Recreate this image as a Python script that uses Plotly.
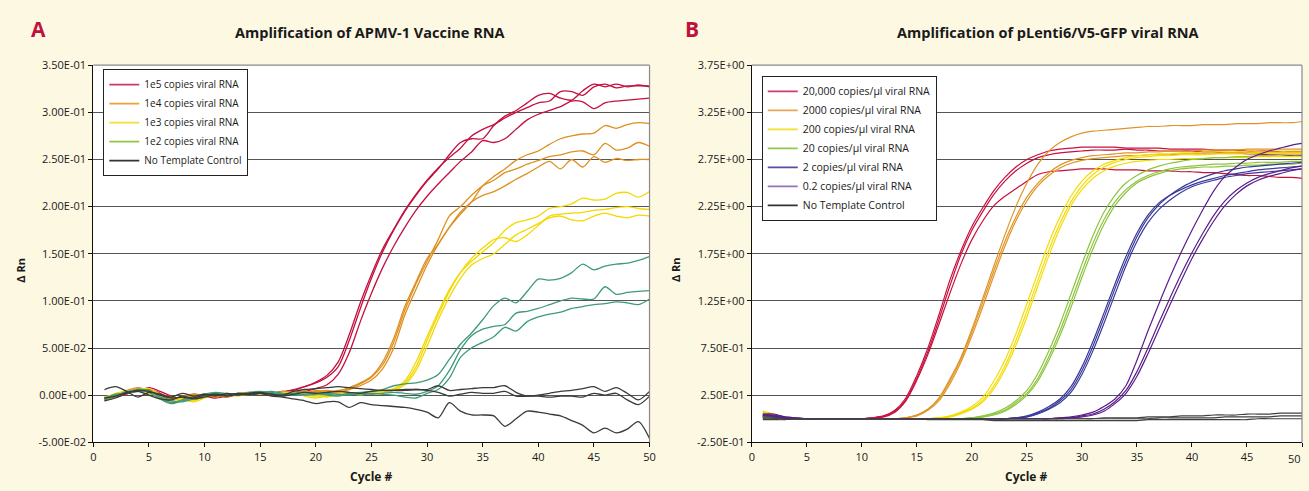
import plotly.graph_objects as go

cycles = list(range(1, 51))

# ---------------- Panel A : APMV-1 vaccine RNA (delta Rn) ----------------
a_1e5_r1 = [-0.004,-0.001,0.003,0.005,0.006,0.002,-0.003,-0.002,-0.004,0.000,
            0.001,-0.002,0.001,0.002,0.001,0.002,0.004,0.005,0.009,0.014,
            0.021,0.035,0.064,0.098,0.128,0.155,0.176,0.196,0.213,0.228,
            0.241,0.252,0.262,0.275,0.282,0.287,0.294,0.300,0.305,0.310,
            0.312,0.322,0.322,0.318,0.327,0.330,0.326,0.328,0.328,0.328]
a_1e5_r2 = [-0.003,0.000,0.002,0.004,0.008,0.004,-0.001,-0.004,-0.002,0.001,
            -0.001,0.000,0.002,0.001,0.003,0.002,0.003,0.006,0.009,0.013,
            0.019,0.030,0.058,0.092,0.124,0.152,0.175,0.195,0.212,0.227,
            0.240,0.255,0.268,0.272,0.272,0.286,0.296,0.302,0.310,0.318,
            0.320,0.315,0.313,0.323,0.330,0.327,0.330,0.327,0.329,0.327]
a_1e5_r3 = [-0.005,-0.002,0.001,0.006,0.004,0.000,-0.004,-0.003,0.001,-0.001,
            -0.003,-0.001,0.000,0.002,0.001,0.003,0.002,0.003,0.004,0.007,
            0.011,0.022,0.045,0.078,0.108,0.135,0.158,0.178,0.196,0.211,
            0.224,0.236,0.248,0.258,0.270,0.268,0.272,0.282,0.292,0.298,
            0.302,0.306,0.312,0.311,0.304,0.310,0.312,0.313,0.314,0.315]

a_1e4_r1 = [-0.002,0.001,0.005,0.008,0.004,-0.004,-0.006,-0.002,0.000,-0.001,
            0.001,0.000,0.002,0.003,0.001,0.002,0.003,0.002,0.003,0.004,
            0.003,0.004,0.008,0.013,0.020,0.035,0.060,0.094,0.120,0.145,
            0.160,0.178,0.192,0.205,0.222,0.232,0.240,0.249,0.255,0.259,
            0.266,0.272,0.275,0.277,0.278,0.286,0.283,0.287,0.289,0.288]
a_1e4_r2 = [-0.004,0.000,0.004,0.006,0.002,-0.002,-0.004,-0.003,-0.001,0.001,
            -0.002,0.001,0.001,0.002,0.002,0.001,0.004,0.003,0.002,0.005,
            0.004,0.005,0.007,0.012,0.019,0.032,0.056,0.090,0.118,0.142,
            0.165,0.190,0.200,0.212,0.222,0.228,0.236,0.240,0.245,0.249,
            0.253,0.255,0.258,0.259,0.255,0.267,0.260,0.262,0.268,0.264]
a_1e4_r3 = [-0.006,-0.002,0.002,0.007,0.005,-0.003,-0.005,-0.001,0.001,0.000,
            0.000,-0.002,0.002,0.001,0.003,0.002,0.001,0.002,0.004,0.003,
            0.005,0.003,0.006,0.010,0.016,0.028,0.050,0.085,0.112,0.138,
            0.160,0.178,0.194,0.205,0.212,0.216,0.222,0.229,0.235,0.242,
            0.248,0.240,0.250,0.242,0.253,0.247,0.251,0.249,0.250,0.250]

a_1e3_r1 = [-0.003,0.002,0.004,0.006,0.007,0.001,-0.004,-0.006,-0.005,-0.002,
            0.000,0.001,-0.001,0.002,0.001,0.003,0.001,0.002,0.001,0.000,
            -0.002,0.001,0.002,0.000,0.003,0.004,0.007,0.015,0.035,0.062,
            0.088,0.112,0.130,0.142,0.152,0.162,0.175,0.183,0.186,0.190,
            0.198,0.200,0.203,0.209,0.207,0.208,0.214,0.215,0.210,0.216]
a_1e3_r2 = [-0.002,0.001,0.005,0.004,0.003,-0.001,-0.003,-0.004,-0.007,-0.003,
            0.001,0.000,0.001,0.000,0.002,0.002,0.003,0.001,0.000,-0.001,
            0.000,0.002,0.001,0.002,0.004,0.003,0.006,0.013,0.030,0.058,
            0.085,0.110,0.130,0.145,0.156,0.165,0.167,0.163,0.170,0.180,
            0.190,0.192,0.193,0.194,0.196,0.197,0.199,0.200,0.198,0.197]
a_1e3_r3 = [-0.004,-0.001,0.003,0.005,0.002,0.000,-0.002,-0.005,-0.006,-0.001,
            -0.001,0.002,0.000,0.001,0.001,0.002,0.002,0.003,-0.001,-0.003,
            -0.001,0.000,0.003,0.001,0.002,0.005,0.005,0.011,0.026,0.052,
            0.080,0.104,0.124,0.138,0.145,0.150,0.160,0.170,0.176,0.182,
            0.188,0.190,0.186,0.185,0.190,0.193,0.190,0.188,0.191,0.190]

a_1e2_r1 = [-0.003,0.000,0.003,0.006,0.005,-0.002,-0.008,-0.005,-0.002,0.000,
            0.002,0.000,0.001,0.003,0.004,0.002,0.001,0.002,0.003,0.002,
            0.001,0.000,0.002,0.003,0.004,0.006,0.010,0.012,0.013,0.016,
            0.022,0.038,0.054,0.066,0.080,0.095,0.103,0.098,0.110,0.123,
            0.122,0.124,0.130,0.139,0.133,0.137,0.139,0.140,0.143,0.147]
a_1e2_r2 = [-0.005,-0.001,0.004,0.005,0.003,-0.004,-0.009,-0.006,-0.003,0.001,
            0.003,0.001,0.000,0.002,0.003,0.004,0.002,0.001,0.000,0.001,
            0.002,0.001,0.000,0.002,0.001,0.002,0.003,0.002,0.001,0.004,
            0.010,0.026,0.048,0.063,0.070,0.073,0.075,0.087,0.089,0.092,
            0.096,0.100,0.103,0.102,0.102,0.115,0.107,0.109,0.110,0.111]
a_1e2_r3 = [-0.004,0.001,0.002,0.004,0.004,0.000,-0.006,-0.007,-0.004,-0.001,
            0.002,0.002,0.001,0.001,0.002,0.003,0.001,0.000,0.001,0.002,
            0.000,-0.001,0.001,0.000,0.002,0.001,0.000,-0.002,-0.003,0.002,
            0.006,0.018,0.040,0.050,0.056,0.062,0.072,0.068,0.078,0.083,
            0.086,0.088,0.092,0.094,0.096,0.097,0.099,0.098,0.096,0.102]

a_ntc_1 = [0.006,0.009,0.004,-0.002,0.003,0.001,-0.002,0.002,-0.001,0.001,
           -0.001,0.002,0.000,0.002,0.003,0.001,0.000,0.004,0.006,0.007,
           0.008,0.009,0.008,0.007,0.006,0.005,0.005,0.005,0.006,0.006,
           0.010,0.005,0.006,0.007,0.008,0.008,0.010,0.003,-0.001,0.000,
           0.002,0.004,0.005,0.007,0.009,0.004,0.008,0.002,-0.005,0.004]
a_ntc_2 = [-0.006,-0.003,0.002,0.005,0.004,0.000,-0.003,-0.002,-0.003,0.000,
           0.001,0.000,0.002,0.001,0.002,0.001,-0.001,0.001,0.003,0.002,
           0.003,0.004,0.003,0.002,0.004,0.005,0.005,0.006,0.006,0.005,
           0.003,-0.001,0.001,0.003,0.002,0.002,0.004,-0.001,-0.001,-0.001,
           -0.002,-0.001,-0.001,-0.002,0.002,0.000,0.002,-0.005,-0.010,-0.001]
a_ntc_3 = [-0.003,-0.001,0.003,0.004,0.000,-0.004,-0.005,-0.001,-0.004,-0.002,
           0.000,-0.001,0.001,0.000,0.002,-0.001,-0.002,-0.004,-0.006,-0.009,
           -0.007,-0.007,-0.013,-0.008,-0.010,-0.011,-0.012,-0.013,-0.015,-0.018,
           -0.024,-0.008,-0.017,-0.021,-0.021,-0.022,-0.033,-0.025,-0.017,-0.018,
           -0.020,-0.022,-0.027,-0.032,-0.040,-0.035,-0.040,-0.036,-0.028,-0.046]

# ---------------- Panel B : pLenti6/V5-GFP viral RNA (delta Rn) ----------------
b_20000_r1 = [0.03,0.02,0.00,0.00,0.00,0.00,0.00,0.00,0.00,0.00,
              0.01,0.03,0.09,0.22,0.46,0.75,1.10,1.47,1.78,2.04,
              2.24,2.42,2.56,2.67,2.75,2.80,2.84,2.86,2.87,2.88,
              2.88,2.88,2.88,2.87,2.87,2.87,2.87,2.86,2.86,2.86,
              2.86,2.85,2.85,2.85,2.84,2.84,2.84,2.83,2.83,2.83]
b_20000_r2 = [0.02,0.01,0.00,0.00,0.00,0.00,0.00,0.00,0.00,0.00,
              0.01,0.03,0.08,0.20,0.43,0.71,1.05,1.41,1.74,2.00,
              2.20,2.38,2.52,2.63,2.71,2.77,2.80,2.82,2.83,2.84,
              2.85,2.85,2.85,2.86,2.85,2.85,2.84,2.84,2.84,2.84,
              2.83,2.83,2.82,2.82,2.81,2.81,2.80,2.80,2.79,2.79]
b_20000_r3 = [0.02,0.01,0.00,0.00,0.00,0.00,0.00,0.00,0.00,0.00,
              0.01,0.02,0.07,0.19,0.41,0.68,1.00,1.33,1.64,1.90,
              2.10,2.26,2.36,2.44,2.52,2.59,2.62,2.63,2.64,2.65,
              2.65,2.65,2.64,2.64,2.64,2.63,2.63,2.63,2.62,2.62,
              2.61,2.61,2.60,2.59,2.58,2.58,2.57,2.56,2.56,2.55]

b_2000_r1 = [0.02,0.01,0.00,0.00,0.00,0.00,0.00,0.00,0.00,0.00,
             0.00,0.00,0.00,0.01,0.04,0.10,0.22,0.42,0.65,0.95,
             1.28,1.62,1.95,2.25,2.50,2.70,2.84,2.93,2.99,3.03,
             3.05,3.06,3.07,3.08,3.09,3.10,3.10,3.11,3.11,3.11,
             3.12,3.12,3.12,3.13,3.13,3.13,3.14,3.14,3.14,3.15]
b_2000_r2 = [0.02,0.01,0.00,0.00,0.00,0.00,0.00,0.00,0.00,0.00,
             0.00,0.00,0.00,0.01,0.04,0.10,0.21,0.40,0.63,0.92,
             1.24,1.57,1.88,2.14,2.35,2.50,2.61,2.69,2.74,2.77,
             2.79,2.80,2.81,2.82,2.82,2.83,2.83,2.84,2.84,2.84,
             2.85,2.85,2.85,2.85,2.86,2.86,2.86,2.86,2.86,2.86]
b_2000_r3 = [0.01,0.01,0.00,0.00,0.00,0.00,0.00,0.00,0.00,0.00,
             0.00,0.00,0.00,0.01,0.03,0.09,0.19,0.37,0.60,0.88,
             1.19,1.52,1.83,2.10,2.31,2.47,2.58,2.66,2.71,2.74,
             2.76,2.77,2.78,2.79,2.79,2.80,2.80,2.80,2.81,2.81,
             2.81,2.81,2.82,2.82,2.82,2.82,2.82,2.82,2.82,2.82]

b_200_r1 = [0.08,0.05,0.01,0.00,0.00,0.00,0.00,0.00,0.00,0.00,
            0.00,0.00,0.00,0.00,0.00,0.00,0.01,0.03,0.07,0.13,
            0.23,0.40,0.62,0.90,1.22,1.55,1.87,2.14,2.36,2.52,
            2.63,2.70,2.74,2.77,2.79,2.80,2.81,2.81,2.82,2.82,
            2.83,2.83,2.83,2.83,2.84,2.84,2.84,2.84,2.84,2.84]
b_200_r2 = [0.07,0.04,0.01,0.00,0.00,0.00,0.00,0.00,0.00,0.00,
            0.00,0.00,0.00,0.00,0.00,0.00,0.01,0.02,0.06,0.11,
            0.20,0.35,0.56,0.83,1.14,1.47,1.79,2.07,2.30,2.47,
            2.59,2.67,2.72,2.75,2.77,2.78,2.79,2.79,2.80,2.80,
            2.80,2.81,2.81,2.81,2.81,2.82,2.82,2.82,2.82,2.82]
b_200_r3 = [0.06,0.03,0.01,0.00,0.00,0.00,0.00,0.00,0.00,0.00,
            0.00,0.00,0.00,0.00,0.00,0.00,0.01,0.02,0.05,0.10,
            0.18,0.32,0.52,0.78,1.08,1.41,1.73,2.02,2.26,2.43,
            2.55,2.63,2.68,2.71,2.73,2.74,2.75,2.75,2.76,2.76,
            2.76,2.77,2.77,2.77,2.77,2.78,2.78,2.78,2.78,2.78]

b_20_r1 = [0.04,0.02,0.00,0.00,0.00,0.00,0.00,0.00,0.00,0.00,
           0.00,0.00,0.00,0.00,0.00,0.00,0.00,0.00,0.00,0.01,
           0.03,0.06,0.11,0.19,0.30,0.48,0.72,1.00,1.32,1.64,
           1.94,2.19,2.37,2.50,2.58,2.64,2.68,2.71,2.73,2.75,
           2.76,2.77,2.77,2.78,2.78,2.79,2.79,2.80,2.80,2.80]
b_20_r2 = [0.03,0.02,0.00,0.00,0.00,0.00,0.00,0.00,0.00,0.00,
           0.00,0.00,0.00,0.00,0.00,0.00,0.00,0.00,0.00,0.01,
           0.02,0.05,0.09,0.17,0.27,0.43,0.66,0.93,1.24,1.56,
           1.86,2.11,2.30,2.43,2.52,2.58,2.62,2.65,2.67,2.68,
           2.69,2.70,2.70,2.71,2.71,2.72,2.72,2.72,2.73,2.73]
b_20_r3 = [0.03,0.01,0.00,0.00,0.00,0.00,0.00,0.00,0.00,0.00,
           0.00,0.00,0.00,0.00,0.00,0.00,0.00,0.00,0.00,0.01,
           0.02,0.04,0.08,0.15,0.25,0.40,0.62,0.88,1.18,1.50,
           1.80,2.06,2.26,2.40,2.50,2.56,2.60,2.63,2.65,2.66,
           2.67,2.67,2.68,2.68,2.69,2.69,2.70,2.70,2.70,2.71]

b_2_r1 = [0.03,0.03,0.01,0.00,0.00,0.00,0.00,0.00,0.00,0.00,
          0.00,0.00,0.00,0.00,0.00,0.00,0.00,0.00,0.00,0.00,
          0.00,0.00,0.00,0.01,0.03,0.07,0.13,0.21,0.34,0.55,
          0.82,1.12,1.43,1.72,1.97,2.16,2.29,2.37,2.43,2.48,
          2.52,2.55,2.58,2.60,2.62,2.64,2.65,2.66,2.67,2.68]
b_2_r2 = [0.04,0.02,0.01,0.00,0.00,0.00,0.00,0.00,0.00,0.00,
          0.00,0.00,0.00,0.00,0.00,0.00,0.00,0.00,0.00,0.00,
          0.00,0.00,0.00,0.01,0.02,0.06,0.11,0.19,0.31,0.51,
          0.77,1.07,1.38,1.67,1.93,2.13,2.27,2.37,2.45,2.51,
          2.56,2.60,2.63,2.65,2.67,2.68,2.69,2.70,2.71,2.72]
b_2_r3 = [0.03,0.02,0.00,0.00,0.00,0.00,0.00,0.00,0.00,0.00,
          0.00,0.00,0.00,0.00,0.00,0.00,0.00,0.00,0.00,0.00,
          0.00,0.00,0.00,0.01,0.02,0.05,0.10,0.17,0.28,0.47,
          0.72,1.01,1.32,1.62,1.88,2.08,2.22,2.32,2.40,2.46,
          2.50,2.53,2.56,2.58,2.60,2.61,2.62,2.63,2.64,2.65]

b_02_r1 = [0.05,0.05,0.02,0.01,0.00,0.00,0.00,0.00,0.00,0.00,
           0.00,0.00,0.00,0.00,0.00,0.00,0.00,0.00,0.00,0.00,
           0.00,0.00,0.00,0.00,0.00,0.00,0.00,0.01,0.02,0.04,
           0.07,0.13,0.21,0.35,0.62,0.93,1.22,1.50,1.76,2.00,
           2.22,2.42,2.57,2.67,2.75,2.80,2.84,2.87,2.90,2.92]
b_02_r2 = [0.04,0.04,0.02,0.01,0.00,0.00,0.00,0.00,0.00,0.00,
           0.00,0.00,0.00,0.00,0.00,0.00,0.00,0.00,0.00,0.00,
           0.00,0.00,0.00,0.00,0.00,0.00,0.00,0.01,0.01,0.03,
           0.05,0.10,0.18,0.30,0.50,0.75,1.02,1.28,1.53,1.76,
           1.97,2.16,2.31,2.42,2.50,2.56,2.60,2.63,2.66,2.68]
b_02_r3 = [0.05,0.03,0.01,0.00,0.00,0.00,0.00,0.00,0.00,0.00,
           0.00,0.00,0.00,0.00,0.00,0.00,0.00,0.00,0.00,0.00,
           0.00,0.00,0.00,0.00,0.00,0.00,0.00,0.00,0.01,0.02,
           0.04,0.08,0.16,0.27,0.45,0.69,0.95,1.21,1.46,1.70,
           1.91,2.10,2.26,2.38,2.47,2.53,2.57,2.60,2.63,2.65]

b_ntc_1 = [0.01,0.01,0.00,0.00,0.00,0.00,0.00,0.00,0.00,0.00,
           0.00,0.00,0.00,0.00,0.00,0.00,0.00,0.00,0.00,0.00,
           0.00,0.00,0.00,0.00,0.00,0.00,0.00,0.00,0.00,0.00,
           0.00,0.01,0.01,0.01,0.01,0.02,0.02,0.02,0.03,0.03,
           0.03,0.04,0.04,0.04,0.05,0.05,0.05,0.06,0.06,0.06]
b_ntc_2 = [0.00,0.00,0.00,0.00,0.00,0.00,0.00,0.00,0.00,0.00,
           0.00,0.00,0.00,0.00,0.00,0.00,0.00,0.00,0.00,0.00,
           0.00,0.00,0.00,0.00,0.00,0.00,0.00,0.00,0.00,0.00,
           0.00,0.00,0.00,0.00,0.00,0.00,0.01,0.01,0.01,0.01,
           0.01,0.01,0.02,0.02,0.02,0.02,0.02,0.03,0.03,0.03]
b_ntc_3 = [-0.01,-0.01,-0.01,0.00,0.00,0.00,0.00,0.00,0.00,0.00,
           0.00,0.00,0.00,0.00,0.00,-0.01,-0.01,-0.01,-0.01,-0.01,
           -0.01,-0.02,-0.02,-0.02,-0.02,-0.02,-0.02,-0.02,-0.02,-0.02,
           -0.02,-0.02,-0.02,-0.02,-0.02,-0.01,-0.01,-0.01,-0.01,-0.01,
           -0.01,-0.01,-0.01,-0.01,-0.01,0.00,0.00,0.00,0.00,0.00]

# ---------------- labels ----------------
a_legend_names = ["1e5 copies viral RNA", "1e4 copies viral RNA", "1e3 copies viral RNA",
                  "1e2 copies viral RNA", "No Template Control"]
b_legend_names = ["20,000 copies/µl viral RNA", "2000 copies/µl viral RNA", "200 copies/µl viral RNA",
                  "20 copies/µl viral RNA", "2 copies/µl viral RNA", "0.2 copies/µl viral RNA",
                  "No Template Control"]
a_ytick_vals = [-0.05, 0.0, 0.05, 0.10, 0.15, 0.20, 0.25, 0.30, 0.35]
a_ytick_text = ["-5.00E-02", "0.00E+00", "5.00E-02", "1.00E-01", "1.50E-01",
                "2.00E-01", "2.50E-01", "3.00E-01", "3.50E-01"]
b_ytick_vals = [-0.25, 0.25, 0.75, 1.25, 1.75, 2.25, 2.75, 3.25, 3.75]
b_ytick_text = ["-2.50E-01", "2.50E-01", "7.50E-01", "1.25E+00", "1.75E+00",
                "2.25E+00", "2.75E+00", "3.25E+00", "3.75E+00"]
x_tick_vals = [0, 5, 10, 15, 20, 25, 30, 35, 40, 45, 50]
x_tick_text = ["0", "5", "10", "15", "20", "25", "30", "35", "40", "45", "50"]
x2_tick_text = ["0", "5", "10", "15", "20", "25", "30", "35", "40", "45", ""]

# ---------------- styling ----------------
W, H = 1309, 491
FONT = "'Open Sans', Lato, sans-serif"
BG = "#fdf8e2"
CRIMSON = "#c0103e"

a_groups = [
    ([a_1e5_r1, a_1e5_r2, a_1e5_r3], "#c4103f", "#d2346c"),
    ([a_1e4_r1, a_1e4_r2, a_1e4_r3], "#de9020", "#f0a235"),
    ([a_1e3_r1, a_1e3_r2, a_1e3_r3], "#f4d800", "#f2e030"),
    ([a_1e2_r1, a_1e2_r2, a_1e2_r3], "#3f9a78", "#8dc63f"),
    ([a_ntc_1, a_ntc_2, a_ntc_3], "#3a3a3a", "#333333"),
]
b_groups = [
    ([b_20000_r1, b_20000_r2, b_20000_r3], "#c8103e", "#d33a6a"),
    ([b_2000_r1, b_2000_r2, b_2000_r3], "#e09426", "#e8a85a"),
    ([b_200_r1, b_200_r2, b_200_r3], "#f3dc00", "#f0e030"),
    ([b_20_r1, b_20_r2, b_20_r3], "#8cc43c", "#94c84a"),
    ([b_2_r1, b_2_r2, b_2_r3], "#3b3a9a", "#54509c"),
    ([b_02_r1, b_02_r2, b_02_r3], "#5a1d8c", "#9474bc"),
    ([b_ntc_1, b_ntc_2, b_ntc_3], "#404040", "#333333"),
]

fig = go.Figure()

for name, (series, col, lcol) in zip(a_legend_names, a_groups):
    for ys in series:
        fig.add_trace(go.Scatter(x=cycles, y=ys, mode="lines", xaxis="x", yaxis="y",
                                 line=dict(color=col, width=1.3, shape="spline", smoothing=0.8),
                                 showlegend=False, hoverinfo="skip"))
    fig.add_trace(go.Scatter(x=[None], y=[None], mode="lines", xaxis="x", yaxis="y",
                             line=dict(color=lcol, width=1.6), name=name,
                             legend="legend", showlegend=True))

for name, (series, col, lcol) in zip(b_legend_names, b_groups):
    for ys in series:
        fig.add_trace(go.Scatter(x=cycles, y=ys, mode="lines", xaxis="x2", yaxis="y2",
                                 line=dict(color=col, width=1.2, shape="spline", smoothing=0.8),
                                 showlegend=False, hoverinfo="skip"))
    fig.add_trace(go.Scatter(x=[None], y=[None], mode="lines", xaxis="x2", yaxis="y2",
                             line=dict(color=lcol, width=1.6), name=name,
                             legend="legend2", showlegend=True))


def px_x(p):
    return p / W


def px_y(p):
    return 1 - p / H


y_dom = [px_y(448), px_y(59)]
axis_common = dict(showline=True, linecolor="#111111", linewidth=1.2, ticks="outside",
                   ticklen=4, tickcolor="#111111",
                   tickfont=dict(family=FONT, size=11, color="#1a1a1a"))

fig.update_layout(
    width=W, height=H,
    margin=dict(l=0, r=0, t=0, b=0),
    paper_bgcolor=BG, plot_bgcolor="white",
    font=dict(family=FONT, color="#1a1a1a"),
    xaxis=dict(domain=[px_x(91), px_x(651)], range=[0, 50], tickvals=x_tick_vals,
               ticktext=x_tick_text, showgrid=False, zeroline=False, anchor="y", **axis_common),
    yaxis=dict(domain=y_dom, range=[-0.05, 0.35], tickvals=a_ytick_vals, ticktext=a_ytick_text,
               showgrid=True, gridcolor="#555555", gridwidth=1, zeroline=False, anchor="x",
               **axis_common),
    xaxis2=dict(domain=[px_x(754), px_x(1308)], range=[0, 50], tickvals=x_tick_vals,
                ticktext=x2_tick_text, showgrid=False, zeroline=False, anchor="y2", **axis_common),
    yaxis2=dict(domain=y_dom, range=[-0.25, 3.75], tickvals=b_ytick_vals, ticktext=b_ytick_text,
                showgrid=True, gridcolor="#555555", gridwidth=1, zeroline=False, anchor="x2",
                **axis_common),
    legend=dict(x=px_x(101), y=px_y(63), xanchor="left", yanchor="top",
                bgcolor="white", bordercolor="#222222", borderwidth=1,
                font=dict(family=FONT, size=10, color="#1a1a1a"), tracegroupgap=0, itemwidth=30),
    legend2=dict(x=px_x(764), y=px_y(70), xanchor="left", yanchor="top",
                 bgcolor="white", bordercolor="#222222", borderwidth=1,
                 font=dict(family=FONT, size=10.5, color="#1a1a1a"), tracegroupgap=0, itemwidth=30),
    showlegend=True,
)

# top/right gray border of both plot areas
for xr, yr in (("x domain", "y domain"), ("x2 domain", "y2 domain")):
    fig.add_shape(type="line", xref=xr, yref=yr, x0=0, x1=1, y0=1, y1=1,
                  line=dict(color="#888888", width=1.2))
    fig.add_shape(type="line", xref=xr, yref=yr, x0=1, x1=1, y0=0, y1=1,
                  line=dict(color="#888888", width=1.2))

annotations = [
    dict(text="<b>A</b>", x=px_x(36), y=px_y(22), font=dict(size=21, color=CRIMSON)),
    dict(text="<b>B</b>", x=px_x(694), y=px_y(22), font=dict(size=21, color=CRIMSON)),
    dict(text="<b>Amplification of APMV-1 Vaccine RNA</b>", x=px_x(370), y=px_y(25),
         font=dict(size=14.5, color="#1a1a1a")),
    dict(text="<b>Amplification of pLenti6/V5-GFP viral RNA</b>", x=px_x(1052), y=px_y(25),
         font=dict(size=14.5, color="#1a1a1a")),
    dict(text="<b>Δ Rn</b>", x=px_x(18), y=px_y(270), textangle=-90,
         font=dict(size=11, color="#1a1a1a")),
    dict(text="<b>Δ Rn</b>", x=px_x(677), y=px_y(270), textangle=-90,
         font=dict(size=11, color="#1a1a1a")),
    dict(text="<b>Cycle #</b>", x=px_x(371), y=px_y(483), font=dict(size=12, color="#1a1a1a")),
    dict(text="<b>Cycle #</b>", x=px_x(1031), y=px_y(483), font=dict(size=12, color="#1a1a1a")),
    dict(text="50", x=px_x(1309), y=px_y(465), xanchor="right",
         font=dict(size=11, color="#1a1a1a")),
]
for a in annotations:
    a.setdefault("xanchor", "center")
    a.update(xref="paper", yref="paper", showarrow=False, yanchor="middle")
    a["font"]["family"] = FONT
fig.update_layout(annotations=annotations)

fig.write_html(
    "out.html",
    config={"displayModeBar": False},
    post_script="document.body.style.margin='0';document.body.style.padding='0';"
                "document.body.style.overflow='hidden';"
                "document.documentElement.style.overflow='hidden';",
)
